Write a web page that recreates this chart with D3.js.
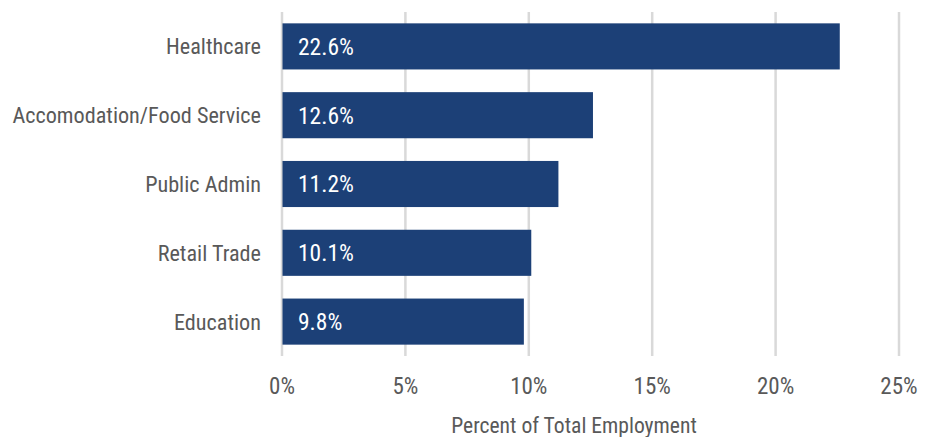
<!DOCTYPE html>
<html><head><meta charset="utf-8">
<script src="https://cdn.jsdelivr.net/npm/d3@7"></script>
<style>
body{margin:0;background:#fff;}
svg text{font-family:"Liberation Sans Narrow","Roboto Condensed","Liberation Sans",sans-serif;}
</style></head><body>
<svg id="c" width="934" height="437"></svg>
<script>
const categories = ["Healthcare","Accomodation/Food Service","Public Admin","Retail Trade","Education"];
const values = [22.6, 12.6, 11.2, 10.1, 9.8];
const valueLabels = ["22.6%","12.6%","11.2%","10.1%","9.8%"];
const tickValues = [0,5,10,15,20,25];
const tickLabels = ["0%","5%","10%","15%","20%","25%"];
const axisTitle = "Percent of Total Employment";

const svg = d3.select("#c");
const x = d3.scaleLinear().domain([0,25]).range([282,899]);
const y = d3.scaleBand().domain(categories).range([12,356]).paddingInner(0.33).paddingOuter(0.165);

svg.append("g").selectAll("line").data(tickValues).join("line")
  .attr("x1",d=>x(d)).attr("x2",d=>x(d)).attr("y1",12).attr("y2",356)
  .attr("stroke","#d9d9d9").attr("stroke-width",2.5);

svg.append("g").selectAll("rect").data(values).join("rect")
  .attr("x",x(0)+0.5).attr("y",(d,i)=>y(categories[i]))
  .attr("width",d=>x(d)-x(0)-0.5).attr("height",y.bandwidth())
  .attr("fill","#1c4077");

svg.append("g").selectAll("text").data(valueLabels).join("text")
  .attr("x",x(0)+16).attr("y",(d,i)=>y(categories[i])+y.bandwidth()/2)
  .attr("dy","0.36em").attr("fill","#fff").attr("font-size",23.5).text(d=>d);

svg.append("g").selectAll("text").data(categories).join("text")
  .attr("x",261).attr("y",d=>y(d)+y.bandwidth()/2).attr("dy","0.36em")
  .attr("text-anchor","end").attr("fill","#595959").attr("font-size",22.2).text(d=>d);

svg.append("g").selectAll("text").data(tickValues).join("text")
  .attr("x",d=>x(d)).attr("y",386).attr("dy","0.36em")
  .attr("text-anchor","middle").attr("fill","#595959").attr("font-size",23)
  .text((d,i)=>tickLabels[i]);

svg.append("text").attr("x",574).attr("y",425).attr("dy","0.36em")
  .attr("text-anchor","middle").attr("fill","#595959").attr("font-size",21.6).text(axisTitle);
</script></body></html>
